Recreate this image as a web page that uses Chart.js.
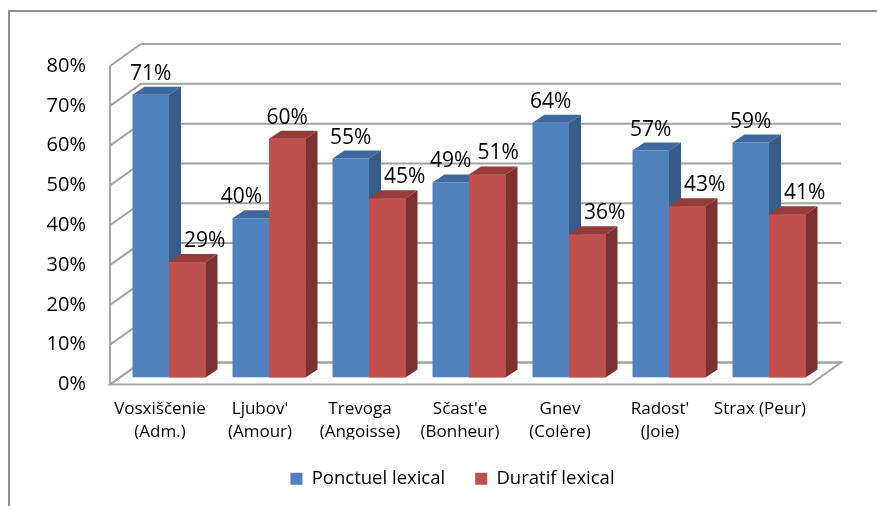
<!DOCTYPE html>
<html>
<head>
<meta charset="utf-8">
<script src="https://cdn.jsdelivr.net/npm/chart.js@4.4.1/dist/chart.umd.min.js"></script>
<style>
  html, body { margin: 0; padding: 0; background: #fff; }
</style>
</head>
<body>
<canvas id="chart" width="877" height="506"></canvas>
<script>
// chart data
const categories = [
  ["Vosxiščenie", "(Adm.)"],
  ["Ljubov'", "(Amour)"],
  ["Trevoga", "(Angoisse)"],
  ["Sčast'e", "(Bonheur)"],
  ["Gnev", "(Colère)"],
  ["Radost'", "(Joie)"],
  "Strax (Peur)"
];
const ponctuel = [71, 40, 55, 49, 64, 57, 59];
const duratif = [29, 60, 45, 51, 36, 43, 41];
const yMax = 80;
const yStep = 10;

const FONT = "'Open Sans', Lato, sans-serif";
// 3d offsets (bar depth, back wall, front edge)
const DX = 12, DY = 8;
const BX = 22, BY = 15;
const FX = -9, FY = 7;

const faces = [
  { side: "#385b88", top: "#3f689c" },
  { side: "#7b3230", top: "#973b38" }
];

const frame3d = {
  id: "frame3d",
  beforeDraw(chart) {
    const ctx = chart.ctx;
    ctx.save();
    ctx.strokeStyle = "#8f8f8f";
    ctx.lineWidth = 2;
    ctx.beginPath();
    ctx.moveTo(9, 506);
    ctx.lineTo(9, 11);
    ctx.lineTo(877, 11);
    ctx.stroke();
    ctx.restore();
  },
  beforeDatasetsDraw(chart) {
    const ctx = chart.ctx;
    const area = chart.chartArea;
    const y = chart.scales.y;
    const y0 = y.getPixelForValue(0);
    ctx.save();
    // floor
    ctx.fillStyle = "#fff";
    ctx.strokeStyle = "#a3a3a3";
    ctx.lineWidth = 2;
    ctx.beginPath();
    ctx.moveTo(area.left + FX, y0 + FY);
    ctx.lineTo(area.right + FX, y0 + FY);
    ctx.lineTo(area.right + BX, y0 - BY);
    ctx.lineTo(area.left + BX, y0 - BY);
    ctx.closePath();
    ctx.fill();
    ctx.stroke();
    // back wall grid lines and side wall diagonals
    for (let v = 0; v <= yMax; v += yStep) {
      const py = y.getPixelForValue(v);
      ctx.beginPath();
      ctx.moveTo(area.left + FX, py + FY);
      ctx.lineTo(area.left + BX, py - BY);
      ctx.lineTo(area.right + BX, py - BY);
      ctx.stroke();
    }
    // front vertical axis line
    ctx.beginPath();
    ctx.moveTo(area.left + FX, y.getPixelForValue(yMax) + FY);
    ctx.lineTo(area.left + FX, y0 + FY);
    ctx.stroke();
    ctx.restore();
  },
  afterDatasetsDraw(chart) {
    const ctx = chart.ctx;
    const blue = chart.getDatasetMeta(0).data;
    const red = chart.getDatasetMeta(1).data;

    function sideTop(el, f) {
      const p = el.getProps(["x", "y", "base", "width"], true);
      const l = p.x - p.width / 2, r = p.x + p.width / 2;
      ctx.fillStyle = f.side;
      ctx.beginPath();
      ctx.moveTo(r, p.y);
      ctx.lineTo(r + DX, p.y - DY);
      ctx.lineTo(r + DX, p.base - DY);
      ctx.lineTo(r, p.base);
      ctx.closePath();
      ctx.fill();
      ctx.fillStyle = f.top;
      ctx.beginPath();
      ctx.moveTo(l, p.y);
      ctx.lineTo(l + DX, p.y - DY);
      ctx.lineTo(r + DX, p.y - DY);
      ctx.lineTo(r, p.y);
      ctx.closePath();
      ctx.fill();
    }

    ctx.save();
    for (let i = 0; i < blue.length; i++) {
      sideTop(blue[i], faces[0]);
      red[i].draw(ctx);
      sideTop(red[i], faces[1]);
    }

    // value labels, pushed aside when they hit the neighbour bar or label
    ctx.font = "21px " + FONT;
    ctx.fillStyle = "#000";
    ctx.textAlign = "center";
    ctx.textBaseline = "alphabetic";
    const overlap = (a, b, m) => a.l - m < b.r && a.r + m > b.l && a.t < b.b && a.b > b.t;
    const box = (cx, base, w) => ({ l: cx - w / 2, r: cx + w / 2, t: base - 14, b: base - 2 });
    for (let i = 0; i < blue.length; i++) {
      const b = blue[i].getProps(["x", "y", "base", "width"], true);
      const r = red[i].getProps(["x", "y", "base", "width"], true);
      const bt = ponctuel[i] + "%", rt = duratif[i] + "%";
      const bw = ctx.measureText(bt).width, rw = ctx.measureText(rt).width;

      let bx = b.x, by = b.y - DY - 7;
      const redBox = { l: r.x - r.width / 2, r: r.x + r.width / 2 + DX, t: r.y - DY, b: r.base };
      let bBox = box(bx, by, bw);
      if (overlap(bBox, redBox, 0)) {
        bx = redBox.l - 7 - bw / 2;
        bBox = box(bx, by, bw);
      }
      ctx.fillText(bt, bx, by);

      let rx = r.x, ry = r.y - DY - 7;
      const blueBox = { l: b.x - b.width / 2, r: b.x + b.width / 2 + DX, t: b.y - DY, b: b.base };
      let rBox = box(rx, ry, rw);
      if (overlap(rBox, blueBox, 0)) {
        rx = blueBox.r + 3 + rw / 2;
        rBox = box(rx, ry, rw);
      }
      if (overlap(rBox, bBox, 5)) {
        rx = bBox.r + 6 + rw / 2;
      }
      ctx.fillText(rt, rx, ry);
    }
    ctx.restore();
  }
};

new Chart(document.getElementById("chart"), {
  type: "bar",
  data: {
    labels: categories,
    datasets: [
      { label: "Ponctuel lexical", data: ponctuel, backgroundColor: "#4f81bd" },
      { label: "Duratif lexical", data: duratif, backgroundColor: "#c0504d" }
    ]
  },
  options: {
    responsive: false,
    animation: false,
    devicePixelRatio: 1,
    layout: { padding: { left: 28, top: 59, right: 0, bottom: 8 } },
    datasets: { bar: { categoryPercentage: 0.73, barPercentage: 1 } },
    scales: {
      x: {
        grid: { display: false, drawTicks: false },
        border: { display: false },
        ticks: {
          color: "#000",
          font: { family: FONT, size: 17, lineHeight: 1.35 },
          labelOffset: -9,
          padding: 20,
          maxRotation: 0,
          autoSkip: false
        },
        afterFit(scale) { scale.height = 62; }
      },
      y: {
        min: 0,
        max: yMax,
        grid: { display: false, drawTicks: false },
        border: { display: false },
        ticks: {
          stepSize: yStep,
          color: "#000",
          font: { family: FONT, size: 20 },
          labelOffset: 7,
          padding: 33,
          callback: v => v + "%"
        },
        afterFit(scale) { scale.width = 91; }
      },
      // empty spacer on the right so the legend stays centred like the original
      spacer: {
        type: "linear",
        position: "right",
        min: 0,
        max: 1,
        grid: { display: false, drawTicks: false },
        border: { display: false },
        ticks: { display: false },
        afterFit(scale) { scale.width = 58; }
      }
    },
    plugins: {
      legend: {
        position: "bottom",
        labels: {
          boxWidth: 12,
          boxHeight: 12,
          padding: 30,
          color: "#000",
          font: { family: FONT, size: 18.5 },
          sort: (a, b) => a.datasetIndex - b.datasetIndex
        }
      },
      tooltip: { enabled: false }
    }
  },
  plugins: [frame3d]
});
</script>
</body>
</html>
